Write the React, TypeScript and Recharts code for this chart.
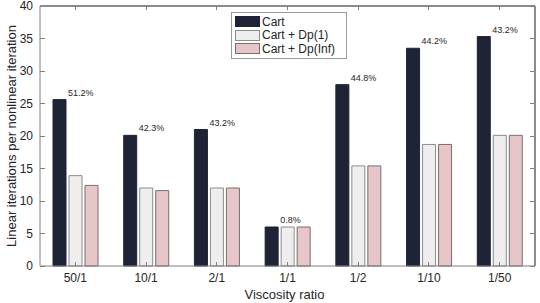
import type { ReactElement } from "react";
import { Bar, BarChart, LabelList, Legend, XAxis, YAxis } from "recharts";

const categories = ["50/1", "10/1", "2/1", "1/1", "1/2", "1/10", "1/50"];
const cartValues = [25.6, 20.1, 21.0, 6.0, 27.9, 33.5, 35.3];
const dp1Values = [13.9, 12.0, 12.0, 6.0, 15.4, 18.7, 20.1];
const dpInfValues = [12.4, 11.6, 12.0, 6.0, 15.4, 18.7, 20.1];
const reductionLabels = ["51.2%", "42.3%", "43.2%", "0.8%", "44.8%", "44.2%", "43.2%"];
const yTicks = [0, 5, 10, 15, 20, 25, 30, 35, 40];
const Y_MAX = 40;

const data = categories.map((name, i) => ({
  name,
  cart: cartValues[i],
  dp1: dp1Values[i],
  dpInf: dpInfValues[i],
  reduction: reductionLabels[i],
}));

const W = 540;
const H = 303;
const MARGIN = { top: 6, right: 5, left: 12, bottom: 17 };
const Y_AXIS_W = 28;
const X_AXIS_H = 20;
const PLOT = {
  x: MARGIN.left + Y_AXIS_W,
  y: MARGIN.top,
  w: W - MARGIN.left - Y_AXIS_W - MARGIN.right,
  h: H - MARGIN.top - MARGIN.bottom - X_AXIS_H,
};

const FONT = '"Liberation Sans", Arial, Helvetica, sans-serif';
const AXIS = "#808080";
const TEXT = "#262626";

function LeftTick(props: any): ReactElement {
  const { x, y, payload } = props;
  return (
    <g>
      <line x1={x + 7} x2={x + 12} y1={y} y2={y} stroke={AXIS} shapeRendering="crispEdges" />
      <text x={x} y={y} dy={4} textAnchor="end" fontSize={12} fill={TEXT} fontFamily={FONT}>
        {payload.value}
      </text>
    </g>
  );
}

function BottomTick(props: any): ReactElement {
  const { x, y, payload } = props;
  return (
    <g>
      <line x1={x} x2={x} y1={y - 4} y2={y} stroke={AXIS} shapeRendering="crispEdges" />
      <text x={x} y={y + 16} textAnchor="middle" fontSize={12} fill={TEXT} fontFamily={FONT}>
        {payload.value}
      </text>
    </g>
  );
}

// top and right edges of the axes box, with inward ticks
function FrameOverlay(): ReactElement {
  const right = PLOT.x + PLOT.w;
  const band = PLOT.w / categories.length;
  return (
    <svg
      width={W}
      height={H}
      shapeRendering="crispEdges"
      style={{ position: "absolute", left: 0, top: 0, pointerEvents: "none", zIndex: 5 }}
    >
      <line x1={PLOT.x} x2={right} y1={PLOT.y} y2={PLOT.y} stroke="#8c8c8c" strokeWidth={1.2} />
      <line x1={right} x2={right} y1={PLOT.y} y2={PLOT.y + PLOT.h} stroke="#8c8c8c" strokeWidth={1.2} />
      {categories.map((c, i) => {
        const cx = PLOT.x + band * (i + 0.5);
        return <line key={c} x1={cx} x2={cx} y1={PLOT.y} y2={PLOT.y + 4} stroke={AXIS} />;
      })}
      {yTicks.map((v) => {
        const ty = PLOT.y + PLOT.h * (1 - v / Y_MAX);
        return <line key={v} x1={right - 5} x2={right} y1={ty} y2={ty} stroke={AXIS} />;
      })}
    </svg>
  );
}

function YTitle(props: any): ReactElement {
  const { viewBox } = props;
  const cx = 11;
  const cy = viewBox.y + viewBox.height / 2;
  return (
    <text
      x={cx}
      y={cy}
      transform={`rotate(-90 ${cx} ${cy})`}
      textAnchor="middle"
      dominantBaseline="central"
      fontSize={13}
      fill={TEXT}
      fontFamily={FONT}
    >
      Linear iterations per nonlinear iteration
    </text>
  );
}

function ReductionLabel(props: any): ReactElement {
  const { x, y, width, value } = props;
  return (
    <text x={x + width + 2} y={y - 4} fontSize={9} fill={TEXT} fontFamily={FONT}>
      {value}
    </text>
  );
}

function LegendBox(): ReactElement {
  const items = [
    { label: "Cart", fill: "#1f2336", stroke: "#1f2336" },
    { label: "Cart + Dp(1)", fill: "#eeeeee", stroke: "#8c8c8c" },
    { label: "Cart + Dp(Inf)", fill: "#e7c6c9", stroke: "#7a6d6e" },
  ];
  return (
    <div
      style={{
        border: "1px solid #9a9a9a",
        background: "#fff",
        padding: "2px 4px 2px 3px",
        fontFamily: FONT,
        fontSize: 12,
        color: TEXT,
        width: 107,
      }}
    >
      {items.map((it) => (
        <div key={it.label} style={{ display: "flex", alignItems: "center", height: 13.5 }}>
          <span
            style={{
              display: "inline-block",
              width: 25,
              height: 11,
              background: it.fill,
              border: `1px solid ${it.stroke}`,
              marginRight: 2,
              boxSizing: "border-box",
            }}
          />
          <span>{it.label}</span>
        </div>
      ))}
    </div>
  );
}

export default function App(): ReactElement {
  return (
    <div style={{ position: "absolute", left: 0, top: 0, width: W, height: H, background: "#fff" }}>
      <BarChart width={W} height={H} data={data} margin={MARGIN} barGap={3} barSize={13}>
        <XAxis
          dataKey="name"
          height={X_AXIS_H}
          stroke={AXIS}
          tickLine={false}
          tickSize={0}
          tickMargin={0}
          tick={<BottomTick />}
          interval={0}
          label={{
            value: "Viscosity ratio",
            position: "insideBottom",
            offset: -13,
            dx: -3,
            fontSize: 13,
            fill: TEXT,
            fontFamily: FONT,
          }}
        />
        <YAxis
          width={Y_AXIS_W}
          domain={[0, Y_MAX]}
          ticks={yTicks}
          stroke={AXIS}
          tickLine={false}
          tickSize={0}
          tickMargin={7}
          tick={<LeftTick />}
          interval={0}
          label={<YTitle />}
        />
        <Legend
          layout="vertical"
          align="center"
          verticalAlign="middle"
          wrapperStyle={{ left: 231, top: 12, width: "auto" }}
          content={<LegendBox />}
        />
        <Bar dataKey="cart" name="Cart" fill="#1f2336" stroke="#1f2336" isAnimationActive={false}>
          <LabelList dataKey="reduction" content={<ReductionLabel />} />
        </Bar>
        <Bar dataKey="dp1" name="Cart + Dp(1)" fill="#eeeeee" stroke="#8c8c8c" isAnimationActive={false} />
        <Bar dataKey="dpInf" name="Cart + Dp(Inf)" fill="#e7c6c9" stroke="#7a6d6e" isAnimationActive={false} />
      </BarChart>
      <FrameOverlay />
    </div>
  );
}
